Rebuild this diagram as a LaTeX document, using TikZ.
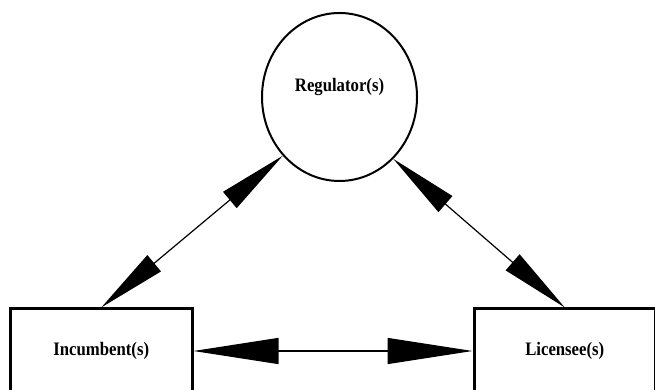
\documentclass[tikz,border=0pt]{standalone}
\usepackage{fontspec}
\setmainfont{Liberation Serif}
\usetikzlibrary{arrows.meta,shapes.geometric}
\begin{document}
\begin{tikzpicture}[x=1pt,y=1pt,
  txt/.style={font=\bfseries\fontsize{19}{22}\selectfont},
  lbl/.style={txt, inner sep=0pt},
  partybox/.style={txt, draw, line width=3pt, minimum width=181.5pt,
    minimum height=84pt, inner sep=0pt, fill=white},
  regshape/.style={ellipse, draw, line width=2pt, minimum width=155pt,
    minimum height=168pt, inner sep=0pt, fill=white},
  link/.style={line width=1.2pt},
  diaglink/.style={link, {Triangle[length=69pt,width=21pt]}-{Triangle[length=69pt,width=21pt]}},
  flatlink/.style={link, {Triangle[length=85pt,width=26pt]}-{Triangle[length=85pt,width=26pt]}}
]
\useasboundingbox (0,0) rectangle (655,390);

% the three parties
\node[regshape] (reg) at (339.5,293) {};
\node[lbl, anchor=base] (regtext) at (339.5,298.3) {\scalebox{0.88}[1]{Regulator(s)}};
\node[partybox] (inc) at (101.25,39) {\scalebox{0.88}[1]{Incumbent(s)}};
\node[partybox] (lic) at (564.75,39) {\scalebox{0.88}[1]{Licensee(s)}};

% two-way relations
\draw[diaglink] (reg.226.7) -- (inc.north);
\draw[diaglink] (reg.311.7) -- (lic.north);
\draw[flatlink] (inc.east) -- (lic.west);
\end{tikzpicture}
\end{document}
